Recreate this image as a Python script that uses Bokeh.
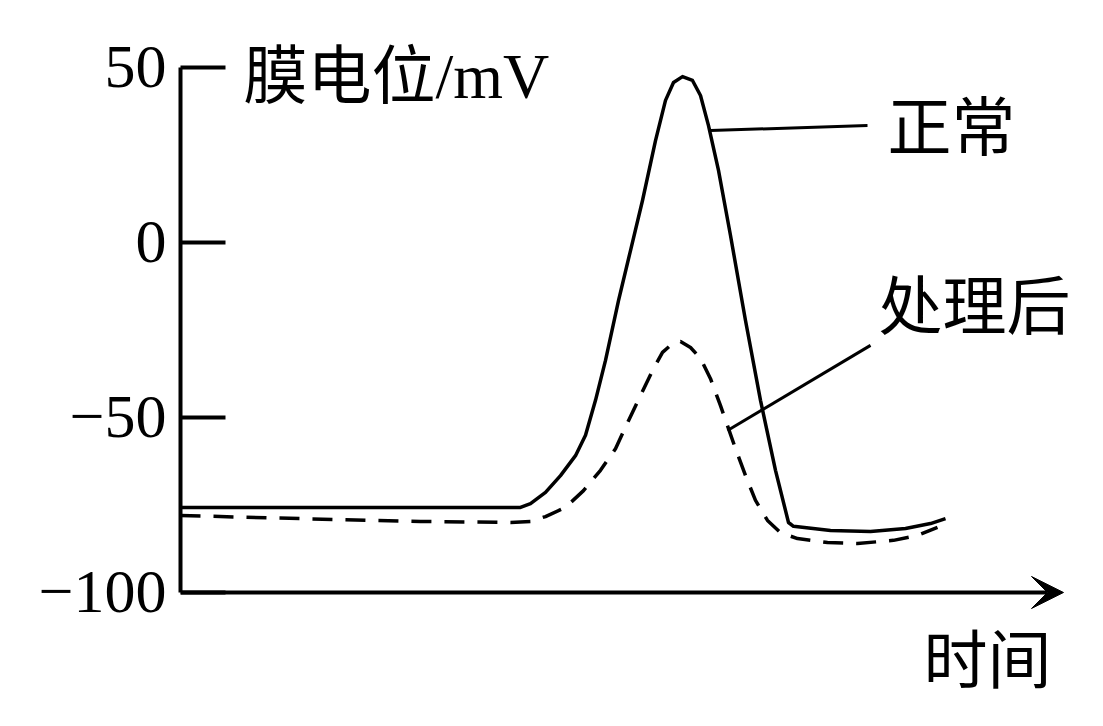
from bokeh.plotting import figure
from bokeh.models import Range1d, FixedTicker, Arrow, VeeHead
from bokeh.core.properties import value
from bokeh.embed import file_html
from bokeh.resources import INLINE

# ---- data (time in arbitrary units, membrane potential in mV) ----
normal_t = [0, 34.0, 35.0, 36.5, 38.0, 39.5, 40.5, 41.5, 42.5, 43.8, 45.0, 46.2, 47.5, 48.5,
            49.3, 50.2, 51.2, 52.0, 52.8, 53.8, 55.0, 56.5, 58.0, 59.5, 60.8, 61.3, 65.0,
            69.0, 72.5, 75.0, 76.5]
normal_v = [-75.7, -75.7, -74.6, -71.4, -66.6, -60.9, -55.1, -45.1, -33.7, -16.6, -2.3, 12.0,
            29.1, 40.6, 45.7, 47.4, 46.3, 42.0, 33.4, 20.6, 2.0, -22.3, -45.1, -65.1, -80.0,
            -81.1, -82.3, -82.6, -81.7, -80.3, -78.9]

treated_t = [0, 12, 24, 33, 35, 36.5, 38.5, 40.3, 42.0, 43.5, 44.8, 46.0, 47.2, 48.2, 49.2,
             50.0, 51.0, 52.0, 53.0, 54.0, 55.5, 56.5, 57.5, 58.7, 60.0, 61.7, 64.7, 67.7,
             71.3, 73.7, 75.7]
treated_v = [-78.0, -78.9, -79.7, -80.0, -79.7, -78.3, -75.7, -70.9, -65.1, -58.9, -50.9,
             -43.7, -36.6, -31.4, -28.9, -28.3, -30.0, -33.1, -38.9, -46.6, -58.9, -66.6,
             -73.7, -79.4, -82.9, -84.6, -85.7, -86.0, -85.1, -83.7, -81.4]

y_ticks = [-100, -50, 0, 50]
y_tick_labels = ["\u2212100", "\u221250", "0", "50"]

y_title = "膜电位/mV"
x_title = "时间"
series_names = ["正常", "处理后"]

# annotation anchors (data units)
label_t = [77.1, 79.4]
label_v = [34.3, -16.6]
leader_t0 = [53.0, 54.7]
leader_v0 = [32.0, -53.7]
leader_t1 = [68.7, 69.0]
leader_v1 = [33.4, -29.4]
y_title_pos = (6.3, 47.4)
x_title_pos = (80.7, -118.0)
x_axis_end = 88.3

SERIF = "Liberation Serif"
CJK = "Noto Sans CJK SC"

p = figure(width=1087, height=710, output_backend="svg", toolbar_location=None,
           x_range=Range1d(0, 89.2), y_range=Range1d(-130.0, 60.571),
           x_axis_location=None, y_axis_location="left",
           min_border_left=180, min_border_right=15, min_border_top=30, min_border_bottom=13)
p.outline_line_color = None
p.grid.visible = False
p.background_fill_color = "white"

ax = p.yaxis[0]
ax.ticker = FixedTicker(ticks=y_ticks)
ax.major_label_overrides = {t: l for t, l in zip(y_ticks, y_tick_labels)}
ax.bounds = (-100, 50)
ax.axis_line_width = 4
ax.axis_line_color = "black"
ax.major_tick_in = 45
ax.major_tick_out = 0
ax.major_tick_line_width = 4
ax.major_tick_line_color = "black"
ax.minor_tick_line_color = None
ax.major_label_text_font = SERIF
ax.major_label_text_font_size = "62px"
ax.major_label_text_color = "black"
ax.major_label_standoff = 14

# x axis arrow
p.add_layout(Arrow(x_start=0, y_start=-100, x_end=x_axis_end, y_end=-100,
                   line_width=4, line_color="black",
                   end=VeeHead(size=32, fill_color="black", line_color="black", line_width=1)))

# curves
p.line(normal_t, normal_v, line_color="black", line_width=3.5, line_join="round")
p.line(treated_t, treated_v, line_color="black", line_width=3.5, line_dash="20 13")

# leader lines
p.segment(x0=leader_t0, y0=leader_v0, x1=leader_t1, y1=leader_v1,
          line_color="black", line_width=3)

# series labels
p.text(x=label_t, y=label_v, text=series_names, text_font=value(CJK),
       text_font_size="64px", text_align="center", text_baseline="middle", text_color="black")

# axis titles
p.text(x=[y_title_pos[0]], y=[y_title_pos[1]], text=[y_title],
       text_font=value(SERIF + ", " + CJK), text_font_size="64px",
       text_align="left", text_baseline="middle", text_color="black")
p.text(x=[x_title_pos[0]], y=[x_title_pos[1]], text=[x_title],
       text_font=value(CJK), text_font_size="64px",
       text_align="center", text_baseline="middle", text_color="black")

open("out.html", "w").write(file_html(p, INLINE))
